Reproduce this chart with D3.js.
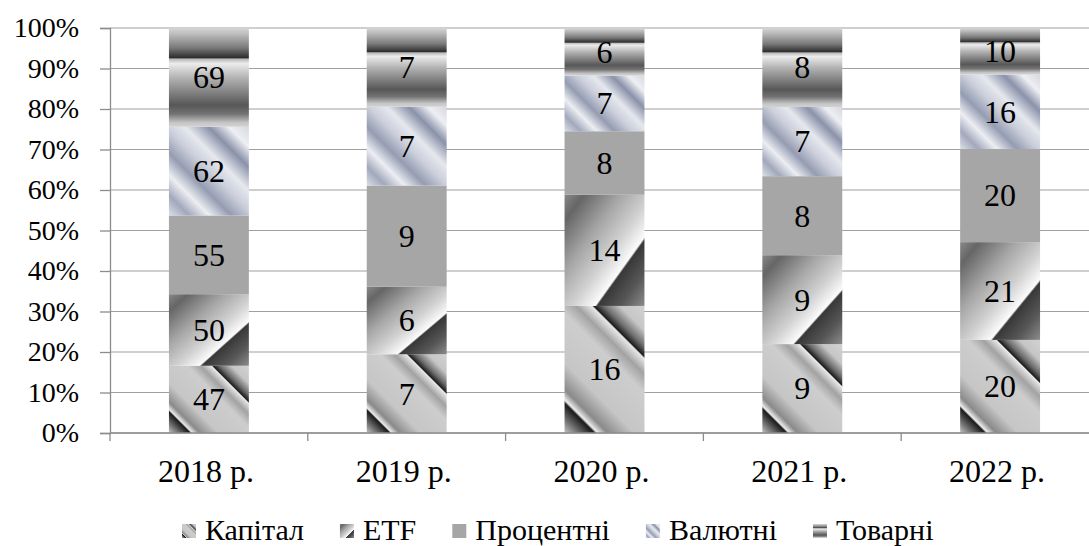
<!DOCTYPE html>
<html>
<head>
<meta charset="utf-8">
<script src="https://cdn.jsdelivr.net/npm/d3@7"></script>
<style>
  html, body { margin: 0; padding: 0; background: #fff; }
  svg { display: block; }
</style>
</head>
<body>
<svg id="chart" width="1089" height="546"></svg>
<script>
// Categories and series
const years = ["2018 р.", "2019 р.", "2020 р.", "2021 р.", "2022 р."];
const seriesNames = ["Капітал", "ETF", "Процентні", "Валютні", "Товарні"];
const capital = [47, 7, 16, 9, 20];
const etf = [50, 6, 14, 9, 21];
const interest = [55, 9, 8, 8, 20];
const currency = [62, 7, 7, 7, 16];
const commodity = [69, 7, 6, 8, 10];
const yTicks = [0, 0.1, 0.2, 0.3, 0.4, 0.5, 0.6, 0.7, 0.8, 0.9, 1];

const serif = "'Liberation Serif', Tinos, 'Times New Roman', 'DejaVu Serif', serif";

const seriesValues = [capital, etf, interest, currency, commodity];
const table = years.map((yr, i) => {
  const row = { year: yr };
  seriesNames.forEach((s, k) => { row[s] = seriesValues[k][i]; });
  return row;
});

const svg = d3.select("#chart");
const defs = svg.append("defs");

const plotLeft = 110, plotRight = 1099, plotTop = 28, plotBottom = 433;

const x = d3.scaleBand().domain(years).range([plotLeft, plotRight])
  .paddingInner(0.596).paddingOuter(0.298);
const y = d3.scaleLinear().domain([0, 1]).range([plotBottom, plotTop]);

const stack = d3.stack().keys(seriesNames).offset(d3.stackOffsetExpand);
const layers = stack(table);

// Fill styles: "diag" gradients run at 45° in user space, "box" ones stretch with the shape
const fills = {
  "Капітал": { kind: "diag", stops: [
    [0, "#d2d2d2"], [0.12, "#c6c6c6"], [0.2, "#6a6a6a"], [0.245, "#1c1c1c"],
    [0.255, "#e8e8e8"], [0.33, "#a2a2a2"], [0.42, "#cdcdcd"], [0.66, "#c6c6c6"],
    [0.79, "#8a8a8a"], [0.84, "#ececec"], [0.855, "#1a1a1a"], [0.93, "#707070"], [1, "#c4c4c4"]] },
  "ETF": { kind: "box", x1: 0, y1: 0, x2: 1, y2: 1, stops: [
    [0, "#888888"], [0.12, "#666666"], [0.35, "#a6a6a6"], [0.55, "#d2d2d2"],
    [0.69, "#fbfbfb"], [0.705, "#383838"], [0.85, "#575757"], [1, "#8c8c8c"]] },
  "Процентні": { kind: "solid", color: "#a6a6a6" },
  "Валютні": { kind: "diag", stops: [
    [0, "#d6d8e0"], [0.12, "#eeeff3"], [0.24, "#8a92aa"], [0.38, "#e6e8ee"],
    [0.5, "#cacedA"], [0.63, "#959cb2"], [0.76, "#eceef2"], [0.88, "#a2a8bc"], [1, "#dcdfe6"]] },
  "Товарні": { kind: "box", x1: 0, y1: 0, x2: 0, y2: 1, stops: [
    [0, "#d6d6d6"], [0.06, "#bdbdbd"], [0.2, "#7a7a7a"], [0.3, "#2e2e2e"],
    [0.315, "#b8b8b8"], [0.36, "#ececec"], [0.5, "#b4b4b4"], [0.78, "#575757"],
    [0.87, "#727272"], [0.96, "#c6c6c6"], [1, "#d2d2d2"]] }
};

let gradCount = 0;
function addStops(g, stops) {
  stops.forEach(([o, c]) => g.append("stop").attr("offset", o).attr("stop-color", c));
}
function boxGradient(name) {
  const f = fills[name];
  const id = "box-" + seriesNames.indexOf(name);
  if (defs.select("#" + id).empty()) {
    const g = defs.append("linearGradient").attr("id", id)
      .attr("x1", f.x1).attr("y1", f.y1).attr("x2", f.x2).attr("y2", f.y2);
    addStops(g, f.stops);
  }
  return "url(#" + id + ")";
}
function diagGradient(name, bx, by, bw, bh) {
  const f = fills[name];
  const id = "diag-" + (gradCount++);
  const g = defs.append("linearGradient").attr("id", id)
    .attr("gradientUnits", "userSpaceOnUse")
    .attr("x1", bx + bw).attr("y1", by)
    .attr("x2", bx + bw - (bw + bh) / 2).attr("y2", by + (bw + bh) / 2);
  addStops(g, f.stops);
  return "url(#" + id + ")";
}
function fillFor(name, bx, by, bw, bh) {
  const f = fills[name];
  if (f.kind === "solid") return f.color;
  if (f.kind === "box") return boxGradient(name);
  return diagGradient(name, bx, by, bw, bh);
}

// Horizontal gridlines
svg.append("g").selectAll("line").data(yTicks).join("line")
  .attr("x1", plotLeft).attr("x2", plotRight)
  .attr("y1", d => y(d)).attr("y2", d => y(d))
  .attr("stroke", "#a0a0a0").attr("stroke-width", 1.2);

// Bars
const barG = svg.append("g");
layers.forEach(layer => {
  const name = layer.key;
  layer.forEach((d, i) => {
    const bx = x(years[i]), bw = x.bandwidth();
    const by = y(d[1]), bh = y(d[0]) - y(d[1]);
    barG.append("rect")
      .attr("x", bx).attr("y", by).attr("width", bw).attr("height", bh)
      .attr("fill", fillFor(name, bx, by, bw, bh));
  });
});

// Value labels
const labelG = svg.append("g").style("font-family", serif).style("font-size", "32px")
  .attr("text-anchor", "middle").attr("fill", "#000");
layers.forEach(layer => {
  layer.forEach((d, i) => {
    labelG.append("text")
      .attr("x", x(years[i]) + x.bandwidth() / 2)
      .attr("y", (y(d[0]) + y(d[1])) / 2)
      .attr("dy", "0.34em")
      .text(d.data[layer.key]);
  });
});

// Y axis
const yAxis = svg.append("g").attr("transform", `translate(${plotLeft},0)`)
  .call(d3.axisLeft(y).tickValues(yTicks).tickFormat(d3.format(".0%")).tickSize(10).tickPadding(21));
yAxis.selectAll("line, path").attr("stroke", "#8c8c8c").attr("stroke-width", 1.3);
yAxis.selectAll("text").style("font-family", serif).style("font-size", "28px").attr("fill", "#000");

// X axis with ticks on category boundaries
const xAxisG = svg.append("g");
xAxisG.append("line").attr("x1", plotLeft).attr("x2", plotRight)
  .attr("y1", plotBottom).attr("y2", plotBottom).attr("stroke", "#8c8c8c").attr("stroke-width", 1.3);
const boundaries = years.map(yr => x(yr) - x.step() * x.paddingOuter()).concat([plotRight]);
xAxisG.selectAll("line.tick").data(boundaries).join("line").attr("class", "tick")
  .attr("x1", d => d).attr("x2", d => d).attr("y1", plotBottom).attr("y2", plotBottom + 8)
  .attr("stroke", "#8c8c8c").attr("stroke-width", 1.3);
xAxisG.selectAll("text").data(years).join("text")
  .attr("x", d => x(d) + x.bandwidth() / 2 - 3).attr("y", 482)
  .attr("text-anchor", "middle").style("font-family", serif).style("font-size", "32px").attr("fill", "#000")
  .text(d => d);

// Legend
const legend = svg.append("g").style("font-family", serif).style("font-size", "30px");
const iconSize = 14, iconGap = 9, itemGap = 36;
let cx = 0;
const items = [];
seriesNames.forEach(name => {
  const g = legend.append("g");
  const t = g.append("text").attr("x", cx + iconSize + iconGap).attr("y", 540).attr("fill", "#000").text(name);
  const w = t.node().getComputedTextLength();
  items.push({ g, name, x0: cx });
  cx += iconSize + iconGap + w + itemGap;
});
const startX = 182;
legend.attr("transform", `translate(${startX},0)`);
items.forEach(it => {
  const bx = it.x0, by = 524;
  it.g.insert("rect", "text")
    .attr("x", bx).attr("y", by).attr("width", iconSize).attr("height", iconSize)
    .attr("fill", fillFor(it.name, bx, by, iconSize, iconSize));
});
</script>
</body>
</html>
